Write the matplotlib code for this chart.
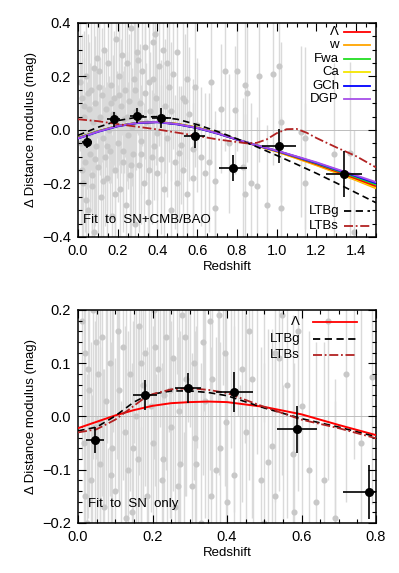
import numpy as np
import matplotlib
matplotlib.use("Agg")
import matplotlib.pyplot as plt
from matplotlib.ticker import MultipleLocator

plt.rcParams["font.family"] = ["Liberation Sans", "DejaVu Sans"]
plt.rcParams["font.size"] = 8

# --- individual SNe (grey) : redshift, delta mu, error ---
sn_z = [0.012, 0.015, 0.02, 0.025, 0.03, 0.035, 0.04, 0.045, 0.05, 0.055,
        0.06, 0.065, 0.07, 0.075, 0.08, 0.085, 0.09, 0.095,
        0.10, 0.105, 0.11, 0.115, 0.12, 0.125, 0.13, 0.135, 0.14, 0.145,
        0.15, 0.155, 0.16, 0.165, 0.17, 0.175, 0.18, 0.185, 0.19, 0.195,
        0.20, 0.205, 0.21, 0.215, 0.22, 0.225, 0.23, 0.235, 0.24, 0.245,
        0.25, 0.255, 0.26, 0.265, 0.27, 0.275, 0.28, 0.285, 0.29, 0.295,
        0.30, 0.305, 0.31, 0.315, 0.32, 0.33, 0.335, 0.34, 0.35, 0.355,
        0.36, 0.37, 0.375, 0.38, 0.39, 0.395, 0.40, 0.41, 0.42, 0.43,
        0.435, 0.44, 0.45, 0.46, 0.47, 0.48, 0.49, 0.50, 0.51, 0.52,
        0.53, 0.54, 0.55, 0.56, 0.58, 0.59, 0.60,
        0.62, 0.64, 0.66, 0.67, 0.69, 0.69, 0.72, 0.74, 0.76, 0.79,
        0.80, 0.83, 0.84, 0.84, 0.85, 0.87, 0.90, 0.91, 0.95, 0.98,
        1.01, 1.02, 1.02, 1.12, 1.14, 1.14, 1.29, 1.37, 1.39,
        0.018, 0.028, 0.038, 0.048, 0.058, 0.068, 0.078, 0.088, 0.108, 0.128,
        0.148, 0.168, 0.188, 0.208, 0.228, 0.248, 0.268, 0.288, 0.318, 0.338,
        0.358, 0.378, 0.398, 0.418, 0.448, 0.468, 0.498, 0.528, 0.548, 0.578]
sn_mu = [0.18, -0.05, 0.12, -0.20, 0.05, -0.12, 0.20, -0.02, -0.30, 0.08,
         -0.09, 0.15, -0.17, 0.03, -0.38, 0.10, -0.06, 0.27,
         -0.14, 0.22, 0.05, -0.25, 0.13, -0.03, 0.30, -0.10, 0.08, -0.18,
         0.25, 0.00, -0.08, 0.17, -0.32, 0.06, 0.12, -0.15, 0.34, 0.02,
         -0.05, 0.20, -0.22, 0.09, 0.28, -0.12, 0.04, 0.15, -0.28, 0.25,
         -0.02, 0.11, -0.17, 0.38, 0.01, -0.09, 0.19, -0.35, 0.07, 0.29,
         0.26, -0.13, 0.10, -0.04, 0.22, -0.20, 0.14, 0.03, -0.27, 0.18,
         0.07, -0.10, 0.33, -0.06, 0.36, 0.12, -0.16, 0.24, 0.04, 0.30,
         -0.22, 0.09, -0.03, 0.16, -0.30, 0.21, -0.12, 0.29, -0.086, -0.056,
         0.12, 0.11, -0.24, 0.06, -0.18, 0.16, 0.02,
         -0.10, -0.16, -0.12, 0.18, -0.19, -0.29, 0.08, 0.22, -0.05, 0.075,
         0.22, -0.14, 0.17, -0.24, 0.14, -0.20, -0.21, 0.20, -0.28, 0.21,
         0.24, 0.03, -0.29, -0.007, -0.03, -0.20, -0.09, -0.087, -0.38,
         -0.15, 0.09, -0.26, 0.14, -0.01, -0.21, 0.23, -0.11, 0.16, -0.19,
         -0.06, 0.10, -0.24, 0.13, -0.08, 0.05, -0.13, 0.15, -0.09, 0.31,
         -0.15, 0.19, -0.01, -0.11, 0.25, 0.07, -0.20, -0.15, 0.19, -0.07]
sn_err = [0.26, 0.30, 0.24, 0.28, 0.22, 0.26, 0.28, 0.20, 0.30, 0.25,
          0.22, 0.30, 0.26, 0.20, 0.32, 0.25, 0.28, 0.30,
          0.25, 0.30, 0.22, 0.28, 0.25, 0.20, 0.30, 0.26, 0.22, 0.28,
          0.30, 0.20, 0.25, 0.28, 0.30, 0.22, 0.25, 0.28, 0.30, 0.20,
          0.22, 0.28, 0.30, 0.25, 0.30, 0.22, 0.20, 0.25, 0.30, 0.28,
          0.20, 0.25, 0.28, 0.30, 0.22, 0.25, 0.28, 0.32, 0.22, 0.30,
          0.28, 0.25, 0.22, 0.20, 0.28, 0.30, 0.25, 0.22, 0.30, 0.28,
          0.22, 0.25, 0.30, 0.20, 0.30, 0.25, 0.28, 0.30, 0.22, 0.30,
          0.28, 0.25, 0.22, 0.28, 0.30, 0.28, 0.25, 0.30, 0.25, 0.22,
          0.28, 0.25, 0.30, 0.25, 0.28, 0.30, 0.25,
          0.26, 0.30, 0.26, 0.30, 0.26, 0.32, 0.24, 0.30, 0.26, 0.24,
          0.30, 0.26, 0.32, 0.30, 0.26, 0.30, 0.26, 0.32, 0.30, 0.34,
          0.34, 0.30, 0.34, 0.32, 0.34, 0.30, 0.34, 0.34, 0.38,
          0.25, 0.28, 0.30, 0.22, 0.26, 0.30, 0.28, 0.25, 0.30, 0.28,
          0.24, 0.30, 0.28, 0.26, 0.30, 0.24, 0.28, 0.30, 0.26, 0.30,
          0.28, 0.30, 0.25, 0.28, 0.30, 0.26, 0.30, 0.28, 0.30, 0.26]

# --- binned data (black) ---
bin_z = [0.045, 0.18, 0.295, 0.42, 0.588, 0.78, 1.01, 1.34]
bin_mu = [-0.044, 0.040, 0.054, 0.046, -0.024, -0.142, -0.060, -0.165]
bin_yerr = [0.025, 0.028, 0.028, 0.038, 0.044, 0.050, 0.065, 0.085]
bin_xerr = [0.024, 0.033, 0.035, 0.050, 0.053, 0.070, 0.085, 0.090]

# --- top panel: fits to SN+CMB/BAO ---
top_z = [0.0, 0.1, 0.2, 0.3, 0.4, 0.5, 0.6, 0.7, 0.8, 0.9, 1.0, 1.1, 1.2, 1.3, 1.4, 1.5]
top_lam = [-0.030, -0.005, 0.015, 0.027, 0.030, 0.022, 0.008, -0.012, -0.036, -0.058,
           -0.079, -0.103, -0.128, -0.155, -0.182, -0.210]
top_w = [-0.030, -0.005, 0.015, 0.027, 0.030, 0.023, 0.009, -0.011, -0.036, -0.059,
         -0.081, -0.106, -0.132, -0.160, -0.188, -0.218]
top_fwa = [-0.030, -0.005, 0.015, 0.027, 0.030, 0.022, 0.008, -0.012, -0.035, -0.057,
           -0.078, -0.101, -0.125, -0.151, -0.177, -0.204]
top_ca = [-0.030, -0.005, 0.015, 0.027, 0.030, 0.023, 0.009, -0.011, -0.035, -0.058,
          -0.080, -0.105, -0.130, -0.158, -0.185, -0.214]
top_gch = [-0.032, -0.007, 0.014, 0.026, 0.029, 0.021, 0.007, -0.013, -0.036, -0.058,
           -0.078, -0.100, -0.123, -0.148, -0.173, -0.199]
top_dgp = [-0.031, -0.006, 0.015, 0.027, 0.030, 0.022, 0.008, -0.012, -0.035, -0.057,
           -0.077, -0.099, -0.121, -0.146, -0.170, -0.195]
top_ltbg = [-0.020, 0.010, 0.035, 0.048, 0.050, 0.040, 0.020, -0.005, -0.033, -0.063,
            -0.095, -0.128, -0.162, -0.198, -0.235, -0.272]
ltbs_z = [0.0, 0.1, 0.2, 0.3, 0.4, 0.5, 0.6, 0.7, 0.8, 0.85, 0.9, 0.95, 1.0, 1.05,
          1.1, 1.15, 1.2, 1.3, 1.4, 1.5]
top_ltbs = [0.040, 0.033, 0.022, 0.012, 0.002, -0.010, -0.022, -0.035, -0.045, -0.050,
            -0.048, -0.035, -0.012, 0.003, 0.004, -0.010, -0.030, -0.065, -0.098, -0.140]

# --- bottom panel: fits to SN only ---
bot_z = [0.0, 0.05, 0.1, 0.125, 0.15, 0.175, 0.2, 0.25, 0.3, 0.35, 0.4, 0.5, 0.6, 0.7, 0.8]
bot_lam = [-0.022, -0.010, 0.002, 0.007, 0.012, 0.016, 0.020, 0.025, 0.027, 0.028,
           0.027, 0.018, 0.004, -0.016, -0.035]
bot_ltbg = [-0.027, -0.020, 0.001, 0.014, 0.027, 0.036, 0.042, 0.048, 0.048, 0.045,
            0.039, 0.016, -0.004, -0.020, -0.038]
bot_ltbs = [-0.030, -0.024, -0.006, 0.007, 0.020, 0.033, 0.042, 0.051, 0.053, 0.050,
            0.044, 0.018, -0.006, -0.022, -0.041]

RED = "#ff0000"
LTBS_C = "#b22222"
GREY_BAR = "#dadada"
GREY_PT = "#c8c8c8"
DASH = (0, (4, 2.5))
DASHDOT = (0, (5, 1.5, 1, 1.5))


def style_axes(ax, xmaj, xmin, ymaj, ymin):
    ax.xaxis.set_major_locator(MultipleLocator(xmaj))
    ax.xaxis.set_minor_locator(MultipleLocator(xmin))
    ax.yaxis.set_major_locator(MultipleLocator(ymaj))
    ax.yaxis.set_minor_locator(MultipleLocator(ymin))
    ax.tick_params(which="both", direction="in", top=True, right=True, width=0.8)
    ax.tick_params(which="major", length=6, labelsize=10.5, pad=5)
    ax.tick_params(which="minor", length=3)
    for s in ax.spines.values():
        s.set_linewidth(1.1)
    ax.set_xlabel("Redshift", fontsize=9.5, labelpad=2)
    ax.set_ylabel("Δ Distance modulus (mag)", fontsize=9.5, labelpad=4)


def draw_data(ax):
    ax.errorbar(sn_z, sn_mu, yerr=sn_err, fmt="o", ms=3.4, color=GREY_PT,
                ecolor=GREY_BAR, elinewidth=1.0, capsize=0, zorder=1)
    ax.axhline(0, color="#bdbdbd", lw=0.7, zorder=1.5)


def draw_bins(ax):
    ax.errorbar(bin_z, bin_mu, yerr=bin_yerr, xerr=bin_xerr, fmt="o", ms=5.5,
                color="k", ecolor="k", elinewidth=1.2, capsize=0, zorder=5)


def legend_entry(ax, y, label, color, ls, x_text, x0, x1):
    ax.text(x_text, y, label, transform=ax.transAxes, ha="right", va="center",
            fontsize=9.5, zorder=10)
    ax.plot([x0, x1], [y, y], transform=ax.transAxes, color=color, ls=ls,
            lw=1.3, zorder=10, clip_on=False)


fig = plt.figure(figsize=(3.99, 5.73), dpi=100)
ax1 = fig.add_axes([0.1955, 0.5864, 0.747, 0.3735])
ax2 = fig.add_axes([0.1955, 0.0873, 0.747, 0.3717])

# top panel
draw_data(ax1)
ax1.plot(top_z, top_w, color="#ffa500", lw=1.4, zorder=3)
ax1.plot(top_z, top_ca, color="#f5e600", lw=1.4, zorder=3)
ax1.plot(top_z, top_lam, color=RED, lw=1.4, zorder=3)
ax1.plot(top_z, top_fwa, color="#22dd22", lw=1.4, zorder=3)
ax1.plot(top_z, top_gch, color="#0000ff", lw=1.4, zorder=3)
ax1.plot(top_z, top_dgp, color="#a64ee8", lw=1.4, zorder=3)
ax1.plot(top_z, top_ltbg, color="k", ls=DASH, lw=1.2, zorder=3)
ax1.plot(ltbs_z, top_ltbs, color=LTBS_C, ls=DASHDOT, lw=1.3, zorder=3)
draw_bins(ax1)
ax1.set_xlim(0, 1.5)
ax1.set_ylim(-0.4, 0.4)
style_axes(ax1, 0.2, 0.05, 0.2, 0.05)

top_leg = [("Λ", RED), ("w", "#ffa500"), ("Fwa", "#22dd22"),
           ("Ca", "#f5e600"), ("GCh", "#0000ff"), ("DGP", "#a64ee8")]
rows = [0.958, 0.895, 0.832, 0.770, 0.707, 0.645]
for (lab, col), y in zip(top_leg, rows):
    legend_entry(ax1, y, lab, col, "-", 0.876, 0.893, 0.980)
legend_entry(ax1, 0.121, "LTBg", "k", DASH, 0.876, 0.893, 0.980)
legend_entry(ax1, 0.051, "LTBs", LTBS_C, DASHDOT, 0.876, 0.893, 0.980)
ax1.text(0.017, 0.08, "Fit  to  SN+CMB/BAO", transform=ax1.transAxes,
         ha="left", va="center", fontsize=9.5)

# bottom panel
draw_data(ax2)
ax2.plot(bot_z, bot_lam, color=RED, lw=1.4, zorder=3)
ax2.plot(bot_z, bot_ltbg, color="k", ls=DASH, lw=1.2, zorder=3)
ax2.plot(bot_z, bot_ltbs, color=LTBS_C, ls=DASHDOT, lw=1.3, zorder=3)
draw_bins(ax2)
ax2.set_xlim(0, 0.8)
ax2.set_ylim(-0.2, 0.2)
style_axes(ax2, 0.2, 0.05, 0.1, 0.02)

legend_entry(ax2, 0.944, "Λ", RED, "-", 0.745, 0.789, 0.936)
legend_entry(ax2, 0.864, "LTBg", "k", DASH, 0.745, 0.789, 0.936)
legend_entry(ax2, 0.789, "LTBs", LTBS_C, DASHDOT, 0.745, 0.789, 0.936)
ax2.text(0.034, 0.089, "Fit  to  SN  only", transform=ax2.transAxes,
         ha="left", va="center", fontsize=9.5)

fig.savefig("out.png", dpi=100)
